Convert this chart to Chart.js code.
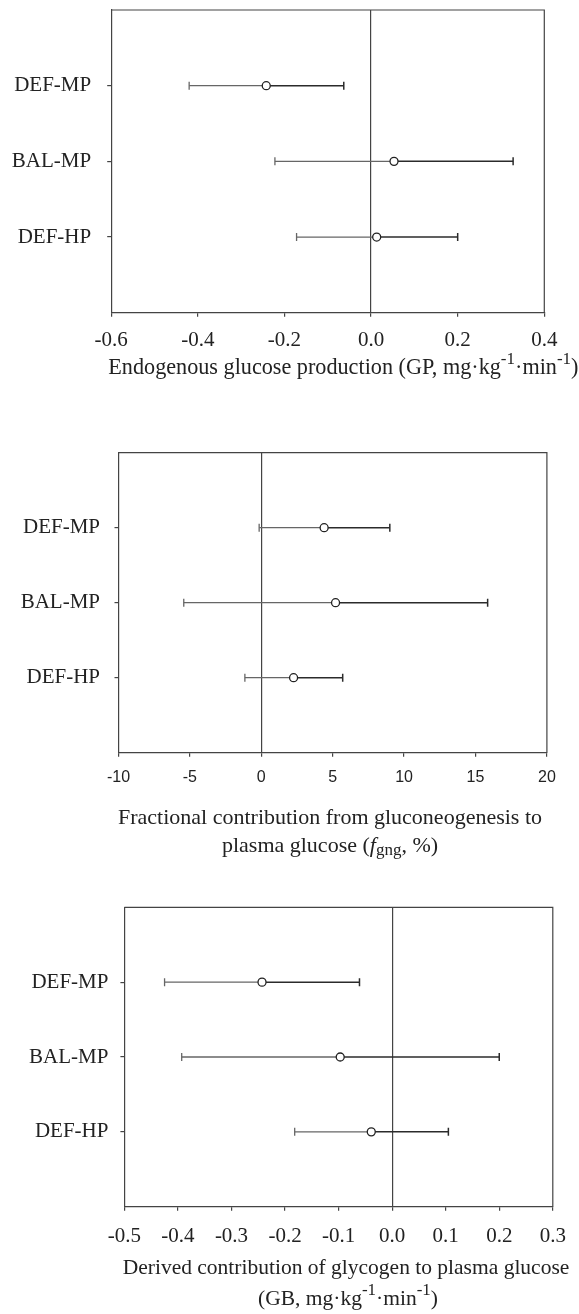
<!DOCTYPE html>
<html>
<head>
<meta charset="utf-8">
<script src="https://cdn.jsdelivr.net/npm/chart.js"></script>
<style>
    html, body { margin: 0; padding: 0; background: #fff; }
    #wrap { position: relative; width: 579px; height: 1314px; overflow: hidden; }
    .panel { position: absolute; left: 0; width: 579px; }
</style>
</head>
<body>
<div id="wrap">
    <div class="panel" style="top:0px"><canvas id="gp-chart" width="579" height="400"></canvas></div>
    <div class="panel" style="top:420px"><canvas id="fgng-chart" width="579" height="450"></canvas></div>
    <div class="panel" style="top:870px"><canvas id="gb-chart" width="579" height="444"></canvas></div>
</div>
<script>
// ===== DATA =====
const groups = ['DEF-MP', 'BAL-MP', 'DEF-HP'];

// Endogenous glucose production (GP)
const gpMean = [-0.242, 0.053, 0.013];
const gpLow = [-0.420, -0.222, -0.172];
const gpHigh = [-0.063, 0.328, 0.200];
const gpTicks = [-0.6, -0.4, -0.2, 0.0, 0.2, 0.4];

// Fractional contribution from gluconeogenesis (fgng, %)
const fgngMean = [4.40, 5.20, 2.26];
const fgngLow = [-0.15, -5.43, -1.15];
const fgngHigh = [9.0, 15.85, 5.70];
const fgngTicks = [-10, -5, 0, 5, 10, 15, 20];

// Derived contribution of glycogen (GB)
const gbMean = [-0.243, -0.097, -0.039];
const gbLow = [-0.425, -0.393, -0.182];
const gbHigh = [-0.061, 0.200, 0.105];
const gbTicks = [-0.5, -0.4, -0.3, -0.2, -0.1, 0.0, 0.1, 0.2, 0.3];

// ===== STYLE =====
const SERIF = "'Liberation Serif', 'Times New Roman', serif";
const SANS = "'Liberation Sans', Arial, sans-serif";
const TEXT = '#222';
const AXIS = '#444';
const LEFT_BAR = '#666';
const RIGHT_BAR = '#2b2b2b';

function buildDatasets(mean, low, high) {
    // first dataset is drawn on top -> the open circles
    const datasets = [{
        data: mean.map((m, i) => ({ x: m, y: i + 1 })),
        showLine: false,
        pointStyle: 'circle',
        pointRadius: 4,
        pointHoverRadius: 4,
        pointBackgroundColor: '#fff',
        pointBorderColor: '#222',
        pointBorderWidth: 1.3
    }];
    mean.forEach((m, i) => {
        datasets.push({
            data: [{ x: low[i], y: i + 1 }, { x: m, y: i + 1 }],
            showLine: true,
            borderColor: LEFT_BAR,
            borderWidth: 1.3,
            pointStyle: 'line',
            rotation: 90,
            pointRadius: [4, 0],
            pointHoverRadius: [4, 0],
            pointBorderColor: LEFT_BAR,
            pointBorderWidth: 1.3
        });
        datasets.push({
            data: [{ x: m, y: i + 1 }, { x: high[i], y: i + 1 }],
            showLine: true,
            borderColor: RIGHT_BAR,
            borderWidth: 1.5,
            pointStyle: 'line',
            rotation: 90,
            pointRadius: [0, 4],
            pointHoverRadius: [0, 4],
            pointBorderColor: RIGHT_BAR,
            pointBorderWidth: 1.5
        });
    });
    return datasets;
}

// box: top and right sides of the plot frame
const framePlugin = {
    id: 'frame',
    beforeDatasetsDraw(chart) {
        const { ctx, chartArea: a } = chart;
        ctx.save();
        ctx.strokeStyle = AXIS;
        ctx.lineWidth = 1.2;
        ctx.beginPath();
        ctx.moveTo(a.left, a.top);
        ctx.lineTo(a.right, a.top);
        ctx.lineTo(a.right, a.bottom);
        ctx.stroke();
        ctx.restore();
    }
};

// axis title with super/subscripts
function fontFor(mode, size) {
    if (mode === 'sup' || mode === 'sub') return Math.round(size * 0.77) + 'px ' + SERIF;
    if (mode === 'it') return 'italic ' + size + 'px ' + SERIF;
    return size + 'px ' + SERIF;
}

const titlePlugin = {
    id: 'richTitle',
    afterDraw(chart, args, opts) {
        const ctx = chart.ctx;
        const size = opts.size || 22;
        ctx.save();
        ctx.fillStyle = TEXT;
        ctx.textBaseline = 'alphabetic';
        ctx.textAlign = 'left';
        (opts.lines || []).forEach(line => {
            const parts = line.segs.map(([t, mode]) => {
                ctx.font = fontFor(mode, size);
                return { t, mode, f: ctx.font, w: ctx.measureText(t).width };
            });
            const total = parts.reduce((s, p) => s + p.w, 0);
            let x = line.align === 'center' ? line.x - total / 2 : line.x;
            parts.forEach(p => {
                ctx.font = p.f;
                const dy = p.mode === 'sup' ? -10 : p.mode === 'sub' ? 3 : 0;
                ctx.fillText(p.t, x, line.y + dy);
                x += p.w;
            });
        });
        ctx.restore();
    }
};

function makePanel(id, cfg) {
    const canvas = document.getElementById(id);
    const H = canvas.height;
    return new Chart(canvas.getContext('2d'), {
        type: 'scatter',
        data: { datasets: buildDatasets(cfg.mean, cfg.low, cfg.high) },
        options: {
            responsive: false,
            animation: false,
            events: [],
            layout: { padding: { top: cfg.area.top, right: 579 - cfg.area.right, left: 0, bottom: 0 } },
            plugins: {
                legend: { display: false },
                tooltip: { enabled: false },
                richTitle: { lines: cfg.title, size: cfg.titleSize }
            },
            scales: {
                x: {
                    type: 'linear',
                    min: cfg.ticks[0],
                    max: cfg.ticks[cfg.ticks.length - 1],
                    afterBuildTicks: s => { s.ticks = cfg.ticks.map(v => ({ value: v })); },
                    afterFit: s => {
                        s.height = H - cfg.area.bottom;
                        s.paddingLeft = 0;
                        s.paddingRight = 0;
                    },
                    ticks: {
                        callback: v => cfg.fmt(v),
                        font: cfg.tickFont,
                        color: TEXT,
                        padding: cfg.xPad,
                        maxRotation: 0,
                        autoSkip: false
                    },
                    grid: {
                        color: c => (c.tick && Math.abs(c.tick.value) < 1e-9) ? AXIS : 'rgba(0,0,0,0)',
                        tickColor: AXIS,
                        tickLength: 4,
                        lineWidth: 1.2
                    },
                    border: { color: AXIS, width: 1.2 }
                },
                y: {
                    type: 'linear',
                    reverse: true,
                    min: 0,
                    max: 4,
                    afterBuildTicks: s => { s.ticks = groups.map((g, i) => ({ value: i + 1 })); },
                    afterFit: s => {
                        s.width = cfg.area.left;
                        s.paddingTop = 0;
                        s.paddingBottom = 0;
                    },
                    ticks: {
                        callback: v => groups[v - 1],
                        font: { family: SERIF, size: 21 },
                        color: TEXT,
                        padding: cfg.yPad,
                        autoSkip: false
                    },
                    grid: { drawOnChartArea: false, tickColor: AXIS, tickLength: 4, lineWidth: 1.2 },
                    border: { color: AXIS, width: 1.2 }
                }
            }
        },
        plugins: [framePlugin, titlePlugin]
    });
}

makePanel('gp-chart', {
    mean: gpMean, low: gpLow, high: gpHigh, ticks: gpTicks,
    fmt: v => v.toFixed(1),
    tickFont: { family: SERIF, size: 21 },
    area: { left: 111.2, top: 10, right: 544.3, bottom: 312.7 },
    xPad: 11, yPad: 16,
    titleSize: 22.2,
    title: [{
        x: 108.3, y: 374, align: 'left',
        segs: [['Endogenous glucose production (GP, mg\u00b7kg', ''], ['-1', 'sup'], ['\u00b7min', ''], ['-1', 'sup'], [')', '']]
    }]
});

makePanel('fgng-chart', {
    mean: fgngMean, low: fgngLow, high: fgngHigh, ticks: fgngTicks,
    fmt: v => String(v),
    tickFont: { family: SANS, size: 16 },
    area: { left: 118.5, top: 32.7, right: 546.9, bottom: 332.7 },
    xPad: 11, yPad: 14.5,
    titleSize: 22,
    title: [
        { x: 330, y: 404, align: 'center', segs: [['Fractional contribution from gluconeogenesis to', '']] },
        { x: 330, y: 432, align: 'center', segs: [['plasma glucose (', ''], ['f', 'it'], ['gng', 'sub'], [', %)', '']] }
    ]
});

makePanel('gb-chart', {
    mean: gbMean, low: gbLow, high: gbHigh, ticks: gbTicks,
    fmt: v => v.toFixed(1),
    tickFont: { family: SERIF, size: 21 },
    area: { left: 124.4, top: 37.3, right: 552.8, bottom: 336.7 },
    xPad: 13, yPad: 12,
    titleSize: 21.5,
    title: [
        { x: 346, y: 404, align: 'center', segs: [['Derived contribution of glycogen to plasma glucose', '']] },
        { x: 348, y: 435, align: 'center', segs: [['(GB, mg\u00b7kg', ''], ['-1', 'sup'], ['\u00b7min', ''], ['-1', 'sup'], [')', '']] }
    ]
});
</script>
</body>
</html>
